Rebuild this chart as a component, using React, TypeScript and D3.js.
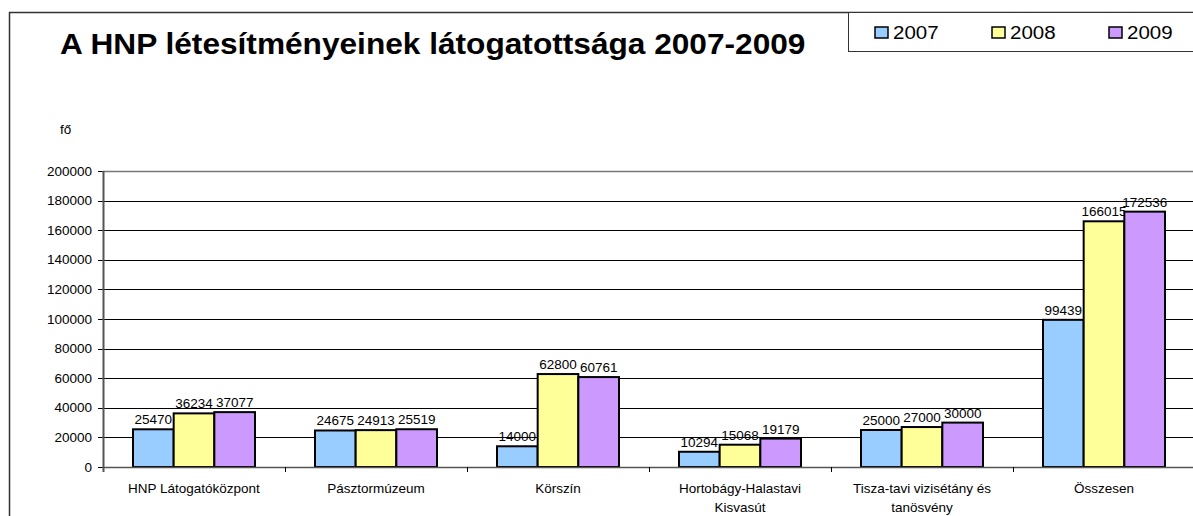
import React from "react";
import * as d3 from "d3";

const categories: string[][] = [
  ["HNP Látogatóközpont"],
  ["Pásztormúzeum"],
  ["Körszín"],
  ["Hortobágy-Halastavi", "Kisvasút"],
  ["Tisza-tavi vizisétány és", "tanösvény"],
  ["Összesen"],
];
const seriesNames = ["2007", "2008", "2009"];
const values2007 = [25470, 24675, 14000, 10294, 25000, 99439];
const values2008 = [36234, 24913, 62800, 15068, 27000, 166015];
const values2009 = [37077, 25519, 60761, 19179, 30000, 172536];
const colors = ["#99CCFF", "#FFFF99", "#CC99FF"];
const yTicks = [0, 20000, 40000, 60000, 80000, 100000, 120000, 140000, 160000, 180000, 200000];

export default function App() {
  const W = 1193, H = 516;
  const left = 103, right = 1195, top = 171, bottom = 467;
  const series = [values2007, values2008, values2009];
  const x = d3.scaleBand<number>().domain(d3.range(categories.length)).range([left, right]).paddingInner(0).paddingOuter(0);
  const y = d3.scaleLinear().domain([0, 200000]).range([bottom, top]);
  const bw = x.bandwidth();
  const groupW = 122;
  const xs = d3.scaleBand<number>().domain([0, 1, 2]).range([0, groupW]);
  const font = "Arial, 'Liberation Sans', sans-serif";
  const sx = 1.08;
  // horizontally stretched text helper
  const T = (props: { x: number; y: number; size: number; anchor?: string; bold?: boolean; children: any }) => (
    <text
      transform={`translate(${props.x},${props.y}) scale(${sx},1)`}
      fontSize={props.size}
      fontWeight={props.bold ? "bold" : "normal"}
      textAnchor={props.anchor || "start"}
      fill="#000"
    >
      {props.children}
    </text>
  );
  return (
    <svg width={W} height={H} style={{ position: "absolute", left: 0, top: 0 }} fontFamily={font}>
      <rect x={0} y={0} width={W} height={H} fill="#fff" />
      {/* frame */}
      <line x1={9} y1={12.5} x2={W} y2={12.5} stroke="#333" strokeWidth={1.5} />
      <line x1={9.5} y1={12} x2={9.5} y2={H} stroke="#333" strokeWidth={1.5} />
      <T x={60} y={54} size={29.3} bold>A HNP létesítményeinek látogatottsága 2007-2009</T>
      {/* legend */}
      <rect x={848.5} y={12.5} width={360} height={39} fill="#fff" stroke="#333" strokeWidth={1} />
      {seriesNames.map((s, i) => (
        <g key={s} transform={`translate(${875 + i * 117},27)`}>
          <rect x={0} y={0} width={13} height={11} fill={colors[i]} stroke="#000" strokeWidth={1.5} />
          <T x={18} y={11.5} size={19}>{s}</T>
        </g>
      ))}
      <T x={60} y={134} size={12.5}>fő</T>
      {/* gridlines */}
      {yTicks.map((t) => (
        <g key={t}>
          {t > 0 && <line x1={left} x2={right} y1={Math.round(y(t)) + 0.5} y2={Math.round(y(t)) + 0.5} stroke={t === 200000 ? "#777" : "#000"} strokeWidth={t === 200000 ? 1.5 : 1} />}
          <line x1={98} x2={left} y1={Math.round(y(t)) + 0.5} y2={Math.round(y(t)) + 0.5} stroke="#000" />
          <T x={92} y={y(t) + 4.5} size={12.5} anchor="end">{t}</T>
        </g>
      ))}
      {/* bars */}
      {categories.map((c, ci) => {
        const gx = (x(ci) as number) + (bw - groupW) / 2;
        return (
          <g key={ci}>
            {series.map((vals, si) => {
              const bx = gx + (xs(si) as number);
              const by = y(vals[ci]);
              return (
                <g key={si}>
                  <rect x={bx} y={by} width={xs.bandwidth()} height={bottom - by} fill={colors[si]} stroke="#000" strokeWidth={2} />
                  <T x={bx + xs.bandwidth() / 2} y={by - 5} size={12.5} anchor="middle">{vals[ci]}</T>
                </g>
              );
            })}
          </g>
        );
      })}
      {/* axes */}
      <line x1={left} x2={right} y1={bottom + 0.5} y2={bottom + 0.5} stroke="#555" strokeWidth={1.5} />
      <line x1={left + 0.5} x2={left + 0.5} y1={top} y2={bottom + 5} stroke="#555" strokeWidth={2} />
      {categories.map((c, ci) => (
        <g key={ci}>
          {ci > 0 && <line x1={Math.round(x(ci) as number) + 0.5} x2={Math.round(x(ci) as number) + 0.5} y1={bottom} y2={bottom + 5} stroke="#000" />}
          {c.map((line, li) => (
            <T key={li} x={(x(ci) as number) + bw / 2} y={493 + li * 19} size={12.5} anchor="middle">{line}</T>
          ))}
        </g>
      ))}
    </svg>
  );
}
